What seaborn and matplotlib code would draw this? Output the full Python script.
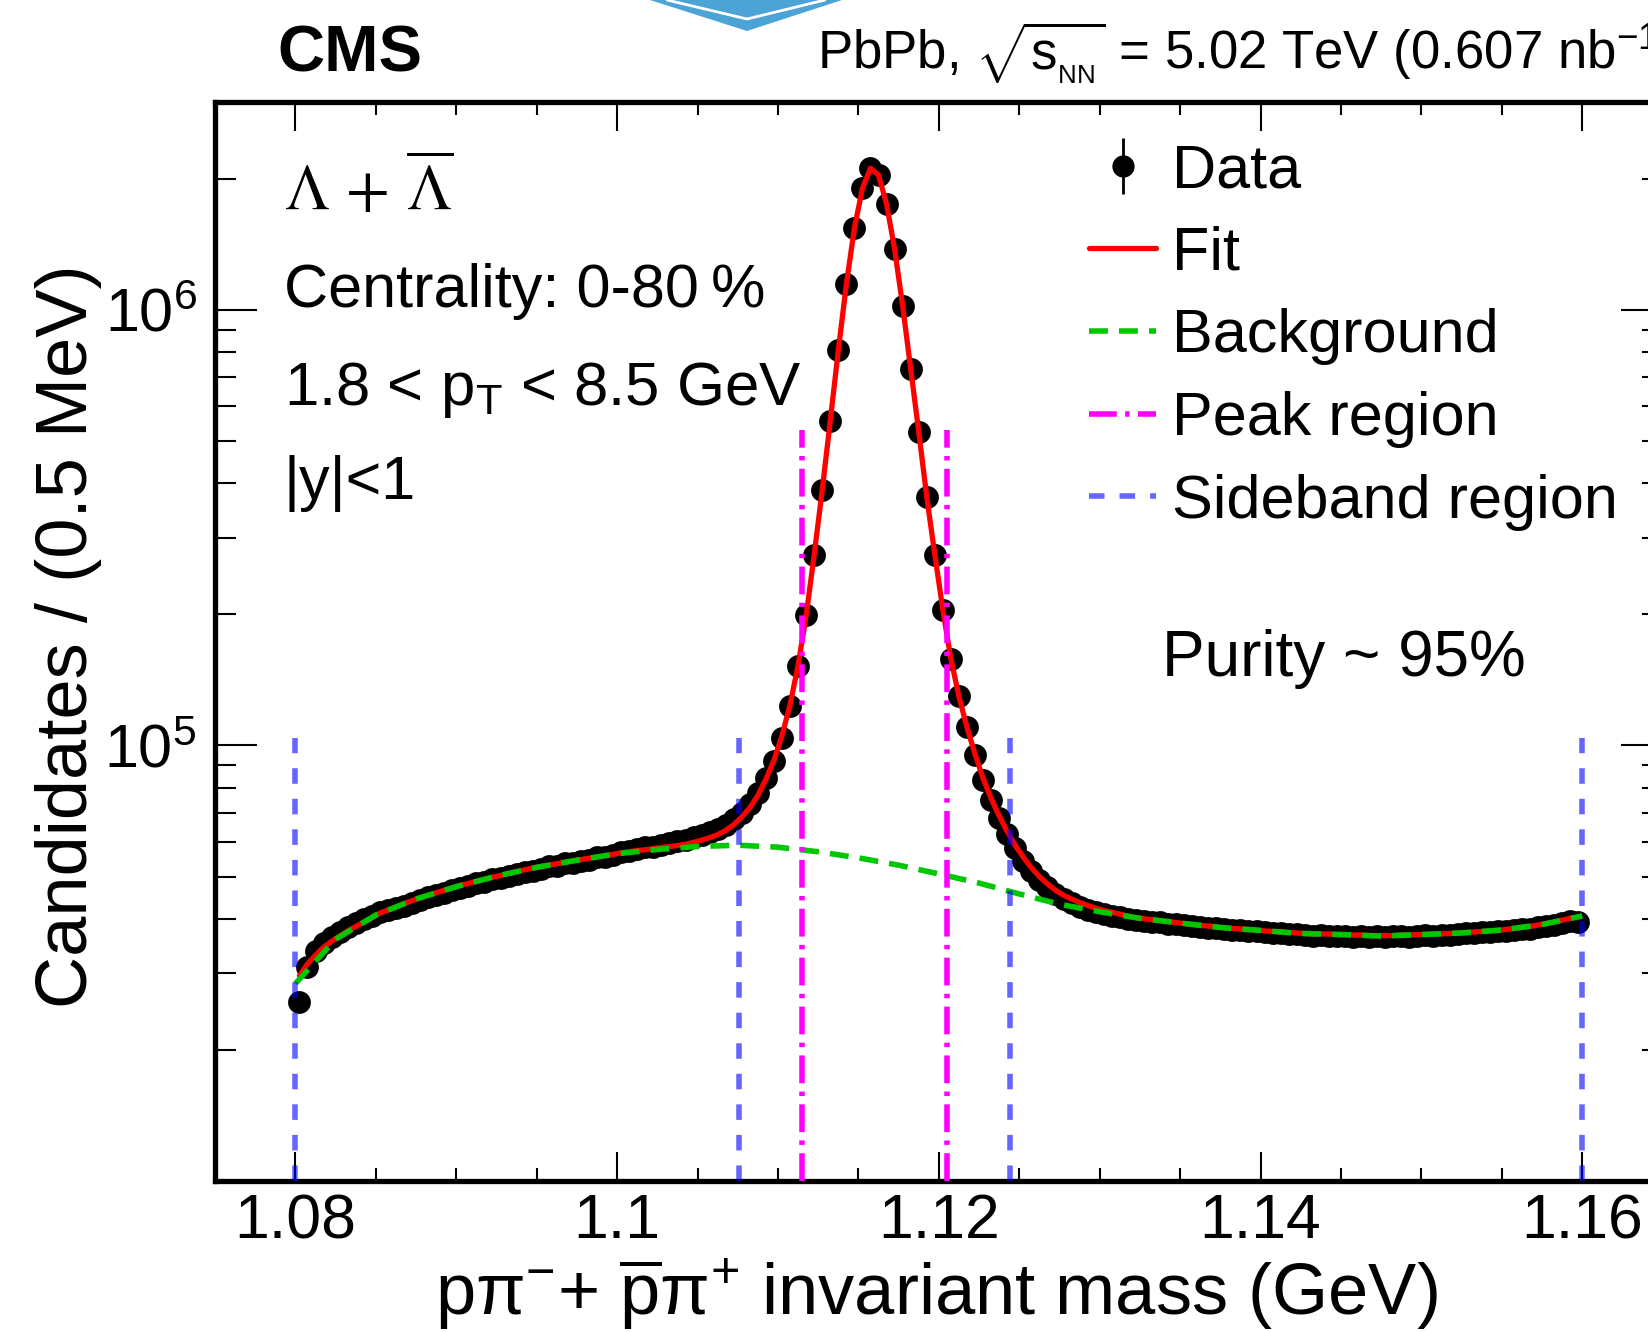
import numpy as np
import matplotlib
matplotlib.use("Agg")
import matplotlib.pyplot as plt
import matplotlib.ticker as mticker
from matplotlib.lines import Line2D
from matplotlib.patches import Polygon
import seaborn as sns

# 0.5 MeV bins between 1.080 and 1.160 GeV
mass_lo, bin_w, n_bins = 1.080, 0.0005, 160

# candidates per bin (thousands)
counts_k = [
    25.8, 31.0, 33.8, 35.2, 36.3, 37.3, 38.3, 39.2, 39.9, 40.5,
    41.4, 41.8, 42.3, 42.9, 43.5, 44.1, 44.8, 45.4, 45.8, 46.6,
    47.0, 47.6, 48.2, 48.6, 49.3, 49.6, 50.2, 50.6, 51.3, 51.5,
    52.1, 52.9, 53.0, 53.6, 53.7, 54.4, 54.6, 55.3, 55.5, 56.1,
    56.9, 57.2, 57.8, 58.3, 58.6, 59.2, 59.7, 60.3, 60.8, 61.7,
    62.4, 63.3, 64.4, 65.7, 67.6, 70.0, 73.2, 77.8, 84.2, 92.0,
    104, 123, 152, 199, 274, 386, 557, 807, 1145, 1539,
    1901, 2113, 2039, 1750, 1380, 1021, 731, 525, 372, 274,
    205, 158, 130, 110, 95.0, 83.2, 74.8, 68.0, 62.5, 58.0,
    54.4, 51.5, 49.0, 47.2, 45.6, 44.3, 43.4, 42.6, 41.9, 41.4,
    41.0, 40.6, 40.3, 40.0, 39.7, 39.6, 39.4, 39.3, 39.0, 38.9,
    38.6, 38.5, 38.3, 38.1, 38.0, 37.8, 37.7, 37.7, 37.5, 37.4,
    37.3, 37.1, 37.1, 36.9, 36.9, 36.8, 36.6, 36.8, 36.6, 36.5,
    36.6, 36.4, 36.5, 36.4, 36.5, 36.3, 36.5, 36.5, 36.4, 36.6,
    36.7, 36.6, 36.8, 36.7, 36.9, 37.0, 37.0, 37.2, 37.2, 37.4,
    37.5, 37.6, 37.9, 37.9, 38.3, 38.5, 38.8, 39.1, 39.5, 39.4,
]

# signal + background fit at the bin centres (thousands)
fit_k = [
    29.6, 31.5, 33.0, 34.4, 35.5, 36.5, 37.5, 38.4, 39.3, 40.2,
    41.2, 41.9, 42.6, 43.3, 44.0, 44.7, 45.3, 45.9, 46.5, 47.1,
    47.7, 48.2, 48.7, 49.3, 49.8, 50.3, 50.8, 51.3, 51.8, 52.3,
    52.7, 53.1, 53.5, 53.9, 54.3, 54.7, 55.1, 55.5, 55.8, 56.2,
    56.7, 57.0, 57.4, 57.6, 58.0, 58.3, 58.6, 58.9, 59.3, 59.9,
    60.6, 61.4, 62.4, 63.8, 65.8, 68.5, 71.9, 76.8, 83.6, 92.5,
    105.3, 124.0, 152.7, 198.4, 274.1, 385.8, 556.5, 807.1, 1144.7, 1539.4,
    1901.0, 2112.5, 2039.1, 1749.7, 1379.3, 1020.9, 730.4, 524.9, 371.4, 273.9,
    204.5, 158.0, 129.5, 110.0, 95.5, 84.0, 75.5, 68.9, 63.4, 58.9,
    55.4, 52.4, 50.0, 48.1, 46.5, 45.3, 44.4, 43.6, 42.9, 42.3,
    41.8, 41.4, 41.0, 40.6, 40.2, 40.0, 39.8, 39.6, 39.4, 39.2,
    39.0, 38.8, 38.6, 38.5, 38.3, 38.1, 38.0, 37.9, 37.8, 37.7,
    37.5, 37.4, 37.3, 37.2, 37.1, 37.0, 36.9, 36.9, 36.9, 36.8,
    36.8, 36.7, 36.7, 36.6, 36.6, 36.6, 36.6, 36.7, 36.7, 36.8,
    36.8, 36.9, 36.9, 37.0, 37.1, 37.2, 37.3, 37.4, 37.5, 37.6,
    37.8, 38.0, 38.2, 38.4, 38.7, 39.0, 39.3, 39.7, 40.1, 40.4,
]

# background component, every 2.5 MeV from 1.080 to 1.160 (thousands)
bg_step = 0.0025
bg_k = [
    28.4, 35.9, 40.8, 44.4, 47.4, 50.1, 52.5, 54.5, 56.4, 57.7,
    58.6, 59.0, 58.4, 57.0, 55.2, 53.1, 50.7, 48.3, 45.6, 43.2,
    41.5, 40.1, 39.1, 38.2, 37.6, 37.0, 36.8, 36.5, 36.8, 37.1,
    37.7, 38.8, 40.6,
]

peak_edges = [1.1115, 1.1205]
sideband_edges = [1.0800, 1.1076, 1.1244, 1.1600]
peak_line_top = 5.3e5
sideband_line_top = 1.04e5

x_ticks = [1.08, 1.10, 1.12, 1.14, 1.16]
x_tick_labels = ["1.08", "1.1", "1.12", "1.14", "1.16"]
y_ticks = [1e5, 1e6]

legend_labels = ["Data", "Fit", "Background", "Peak region", "Sideband region"]

# build arrays
mass = mass_lo + bin_w * (np.arange(n_bins) + 0.5)
counts = np.array(counts_k) * 1e3
fit = np.array(fit_k) * 1e3
bg_mass = mass_lo + bg_step * np.arange(len(bg_k))
bg = np.array(bg_k) * 1e3

sns.set_style("ticks")
plt.rcParams["font.family"] = ["Liberation Sans", "DejaVu Sans"]
plt.rcParams["mathtext.fontset"] = "custom"
plt.rcParams["mathtext.rm"] = "Liberation Sans"
plt.rcParams["mathtext.it"] = "Liberation Sans:italic"
plt.rcParams["mathtext.bf"] = "Liberation Sans:bold"
for key in ["text.color", "axes.labelcolor", "xtick.color", "ytick.color", "axes.edgecolor"]:
    plt.rcParams[key] = "black"

W, H = 1649, 1332
fig = plt.figure(figsize=(W / 100, H / 100), dpi=100)
ax = fig.add_axes([215 / W, 1 - 1181 / H, (1662.7 - 215) / W, (1181 - 102) / H])
ax.set_facecolor("white")


def fx(x):
    return x / W


def fy(y):
    return 1 - y / H


red = "#ff0000"
green = "#00c800"
magenta = "#ff00ff"
blue = "#0000ff"
green_ls = (0, (3.4, 2.0))
blue_ls = (0, (2.8, 2.7))
magenta_ls = (0, (5.0, 1.5, 0.8, 1.5))

# data
ax.errorbar(mass, counts, yerr=np.sqrt(counts), fmt="none", ecolor="black",
            elinewidth=1.5, zorder=2)
sns.scatterplot(x=mass, y=counts, ax=ax, color="black", s=270, linewidth=0,
                zorder=3)

# fit and background
sns.lineplot(x=mass, y=fit, ax=ax, color=red, lw=3.8, sort=False,
             estimator=None, zorder=4)
sns.lineplot(x=bg_mass, y=bg, ax=ax, color=green, lw=4, linestyle=green_ls,
             sort=False, estimator=None, zorder=5)

# peak and sideband regions
ax.vlines(peak_edges, 1e4, peak_line_top, colors=magenta, lw=4,
          linestyles=[magenta_ls], zorder=6)
ax.vlines(sideband_edges, 1e4, sideband_line_top, colors=blue, alpha=0.6,
          lw=4, linestyles=[blue_ls], zorder=7)

# axes
ax.set_yscale("log")
ax.set_xlim(1.075, 1.165)
ax.set_ylim(1e4, 3e6)
ax.xaxis.set_major_locator(mticker.FixedLocator(x_ticks))
ax.xaxis.set_major_formatter(mticker.FixedFormatter(x_tick_labels))
ax.xaxis.set_minor_locator(mticker.MultipleLocator(0.005))
ax.yaxis.set_major_locator(mticker.FixedLocator(y_ticks))
ax.yaxis.set_major_formatter(mticker.LogFormatterSciNotation())
ax.yaxis.set_minor_locator(mticker.LogLocator(base=10, subs=np.arange(2, 10), numticks=30))
ax.yaxis.set_minor_formatter(mticker.NullFormatter())

ax.tick_params(which="both", direction="in", top=True, right=True, width=1.5,
               color="black", labelcolor="black")
ax.tick_params(axis="x", which="major", length=20.6, pad=8, labelsize=45)
ax.tick_params(axis="x", which="minor", length=9.1)
ax.tick_params(axis="y", which="major", length=30, pad=13, labelsize=44)
ax.tick_params(axis="y", which="minor", length=15)
for sp in ax.spines.values():
    sp.set_linewidth(3.8)
    sp.set_color("black")

ax.set_xlabel("p\u03c0$^{-}$+ $\\overline{\\mathrm{p}}$\u03c0$^{+}$ invariant mass (GeV)",
              fontsize=52, va="baseline", color="black")
ax.xaxis.set_label_coords(0.498, -0.124)
ax.set_ylabel("Candidates / (0.5 MeV)", fontsize=52, va="center", color="black")
ax.yaxis.set_label_coords(-0.1015, 0.505)

# legend
data_h = (Line2D([], [], color="black", marker="|", markersize=40, mew=2, ls="none"),
          Line2D([], [], color="black", marker="o", markersize=15, ls="none"))
handles = [
    data_h,
    Line2D([], [], color=red, lw=3.8),
    Line2D([], [], color=green, lw=4, ls=green_ls),
    Line2D([], [], color=magenta, lw=4, ls=magenta_ls),
    Line2D([], [], color=blue, alpha=0.6, lw=4, ls=blue_ls),
]
ax.legend(handles, legend_labels, loc="upper left",
          bbox_to_anchor=(fx(1089), fy(143)), bbox_transform=fig.transFigure,
          frameon=False, fontsize=44, handlelength=1.1, handletextpad=0.26,
          labelspacing=0.42, borderpad=0, borderaxespad=0)

# labels
fig.text(fx(277), fy(71.5), "CMS", fontsize=47, fontweight="bold", va="baseline")
fig.text(fx(817), fy(69), r"PbPb, $\sqrt{\mathrm{s}_{_{\mathrm{NN}}}}$ = 5.02 TeV (0.607 nb$^{-1}$)",
         fontsize=38, va="baseline")
fig.text(fx(284), fy(210), r"$\Lambda\,+\,\overline{\Lambda}$", fontsize=46,
         math_fontfamily="stix", va="baseline")
fig.text(fx(284), fy(307), "Centrality: 0-80\u2009%", fontsize=44, va="baseline")
fig.text(fx(284), fy(405), r"1.8 < p$_{\mathrm{T}}$ < 8.5 GeV", fontsize=44.5, va="baseline")
fig.text(fx(284), fy(498.5), "|y|<1", fontsize=44, va="baseline")
fig.text(fx(1162), fy(676), "Purity ~ 95%", fontsize=46, va="baseline")

# partial logo at the top edge
fig.add_artist(Polygon([(fx(650), fy(0)), (fx(747), fy(31)), (fx(842), fy(0))],
                       closed=True, transform=fig.transFigure,
                       facecolor="#4ca3d6", edgecolor="none"))
fig.add_artist(Line2D([fx(667), fx(747), fx(825)], [fy(0), fy(19), fy(0)],
                      transform=fig.transFigure, color="white", lw=2))

fig.savefig("out.png", dpi=100)
